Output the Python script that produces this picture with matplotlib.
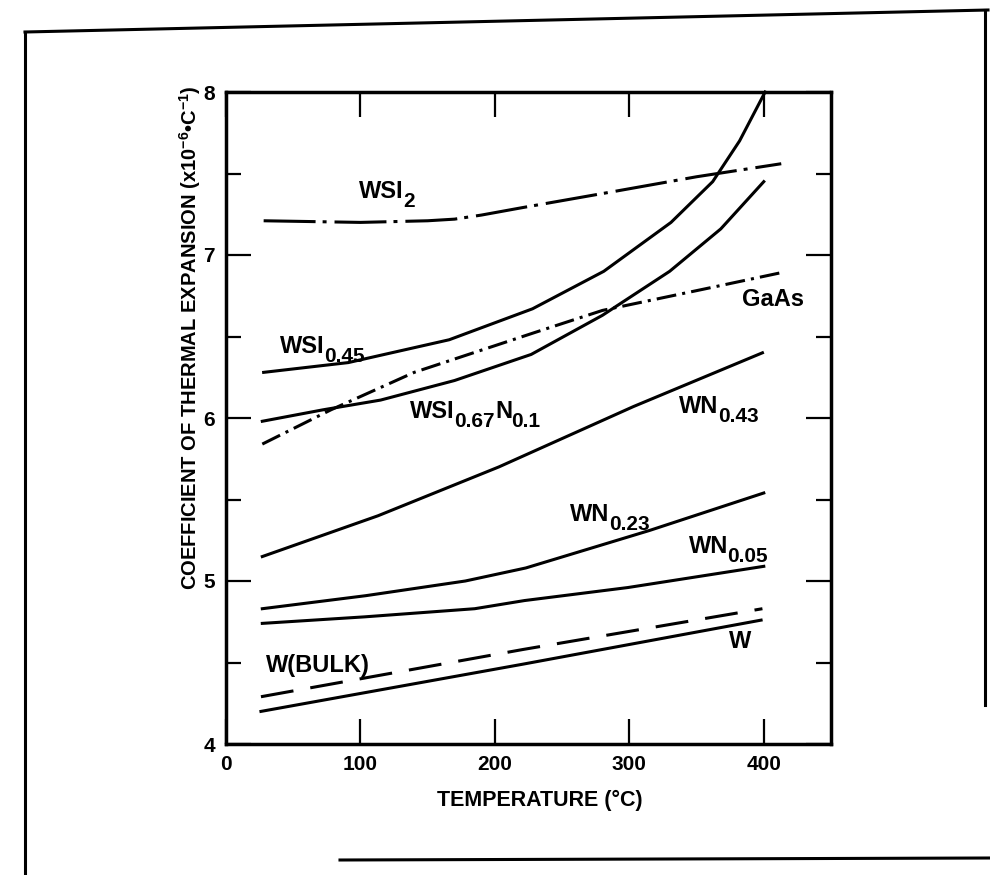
import matplotlib
matplotlib.use("Agg")
import matplotlib.pyplot as plt
from matplotlib.lines import Line2D
from matplotlib.ticker import MultipleLocator

plt.rcParams['font.family'] = ['Liberation Sans', 'DejaVu Sans']
plt.rcParams['font.weight'] = 'bold'
plt.rcParams['mathtext.fontset'] = 'custom'
plt.rcParams['mathtext.rm'] = 'Liberation Sans:bold'
plt.rcParams['mathtext.default'] = 'rm'

# curve readings: temperature (C) / expansion coefficient (x1e-6 /C)
w_x = [26, 221, 398]
w_y = [4.20, 4.49, 4.76]
wbulk_x = [26, 221, 399]
wbulk_y = [4.29, 4.58, 4.83]
wn005_x = [27, 103, 185, 222, 299, 400]
wn005_y = [4.74, 4.78, 4.83, 4.88, 4.96, 5.09]
wn023_x = [27, 104, 178, 223, 275, 315, 400]
wn023_y = [4.83, 4.91, 5.00, 5.08, 5.21, 5.31, 5.54]
wn043_x = [27, 113, 203, 303, 399]
wn043_y = [5.15, 5.40, 5.70, 6.07, 6.40]
wsi067_x = [27, 72, 115, 170, 227, 280, 330, 368, 400]
wsi067_y = [5.98, 6.05, 6.11, 6.23, 6.39, 6.63, 6.90, 7.16, 7.45]
wsi045_x = [28, 91, 166, 228, 281, 331, 362, 382, 401]
wsi045_y = [6.28, 6.34, 6.48, 6.67, 6.90, 7.20, 7.45, 7.70, 8.00]
wsi2_x = [28, 100, 150, 170, 190, 220, 282, 350, 413]
wsi2_y = [7.21, 7.20, 7.21, 7.22, 7.245, 7.29, 7.38, 7.48, 7.56]
gaas_x = [27, 78, 140, 228, 280, 355, 412]
gaas_y = [5.84, 6.05, 6.28, 6.52, 6.66, 6.79, 6.89]

x_ticks = [0, 100, 200, 300, 400]
y_ticks = [4, 5, 6, 7, 8]

# labels: (main, subscript, extra main, extra subscript, x, baseline y)
labels = [
    ("WSI", "2", "", "", 99, 7.35),
    ("WSI", "0.45", "", "", 40, 6.40),
    ("WSI", "0.67", "N", "0.1", 137, 6.00),
    ("GaAs", "", "", "", 384, 6.69),
    ("WN", "0.43", "", "", 337, 6.03),
    ("WN", "0.23", "", "", 256, 5.37),
    ("WN", "0.05", "", "", 344, 5.17),
    ("W(BULK)", "", "", "", 30, 4.44),
    ("W", "", "", "", 374, 4.59),
]

fig = plt.figure(figsize=(9.9, 8.75), dpi=100)
ax = fig.add_axes([226 / 990, 1 - 744 / 875, 605 / 990, 652 / 875])

lw = 2.2
ax.plot(w_x, w_y, color='black', lw=lw)
ax.plot(wbulk_x, wbulk_y, color='black', lw=lw, dashes=(10.8, 5.6))
ax.plot(wn005_x, wn005_y, color='black', lw=lw)
ax.plot(wn023_x, wn023_y, color='black', lw=lw)
ax.plot(wn043_x, wn043_y, color='black', lw=lw)
ax.plot(wsi067_x, wsi067_y, color='black', lw=lw)
ax.plot(wsi045_x, wsi045_y, color='black', lw=lw, clip_on=False)
ax.plot(wsi2_x, wsi2_y, color='black', lw=lw, dashes=(17, 2.3, 1.3, 2.6))
ax.plot(gaas_x, gaas_y, color='black', lw=lw, dashes=(6.5, 2, 1, 2))

for main, sub, main2, sub2, x, y in labels:
    t = ax.text(x, y, main, fontsize=17, fontweight='bold', va='baseline', ha='left')
    if sub:
        s = ax.annotate(sub, xy=(1, y), xycoords=(t, 'data'), xytext=(-0.5, -6.5),
                        textcoords='offset points', fontsize=15, fontweight='bold',
                        va='baseline', ha='left')
        if main2:
            m = ax.annotate(main2, xy=(1, y), xycoords=(s, 'data'), xytext=(0.3, 0),
                            textcoords='offset points', fontsize=17, fontweight='bold',
                            va='baseline', ha='left')
            ax.annotate(sub2, xy=(1, y), xycoords=(m, 'data'), xytext=(-0.5, -6.5),
                        textcoords='offset points', fontsize=15, fontweight='bold',
                        va='baseline', ha='left')

ax.set_xlim(0, 450)
ax.set_ylim(4, 8)
ax.set_xticks(x_ticks)
ax.set_yticks(y_ticks)
ax.yaxis.set_minor_locator(MultipleLocator(0.5))
ax.tick_params(which='major', direction='in', length=18, width=1.6, top=True, right=True,
               labelsize=15, pad=8)
ax.tick_params(which='minor', direction='in', length=11, width=1.6, left=True, right=True)
ax.tick_params(axis='x', which='minor', bottom=False, top=False)
for lab in ax.get_xticklabels() + ax.get_yticklabels():
    lab.set_fontweight('bold')
for sp in ax.spines.values():
    sp.set_linewidth(2.5)

fig.text(190 / 990, 1 - 338 / 875,
         r"COEFFICIENT OF THERMAL EXPANSION (x10$^{-6}$•C$^{-1}$)",
         rotation=90, ha='center', va='center', fontsize=14.5, fontweight='bold')
fig.text(540 / 990, 1 - 800 / 875, "TEMPERATURE (°C)", ha='center', va='center',
         fontsize=15.5, fontweight='bold')

# outer frame of the scanned figure
frame = dict(color='black', lw=2.2, transform=fig.transFigure)
fig.add_artist(Line2D([25 / 990, 988 / 990], [1 - 32 / 875, 1 - 10 / 875], **frame))
fig.add_artist(Line2D([25 / 990, 25 / 990], [1 - 32 / 875, 0], **frame))
fig.add_artist(Line2D([985 / 990, 985 / 990], [1 - 10 / 875, 1 - 705 / 875], **frame))
fig.add_artist(Line2D([340 / 990, 990 / 990], [1 - 860 / 875, 1 - 858 / 875], **frame))

fig.savefig("out.png", dpi=100)
